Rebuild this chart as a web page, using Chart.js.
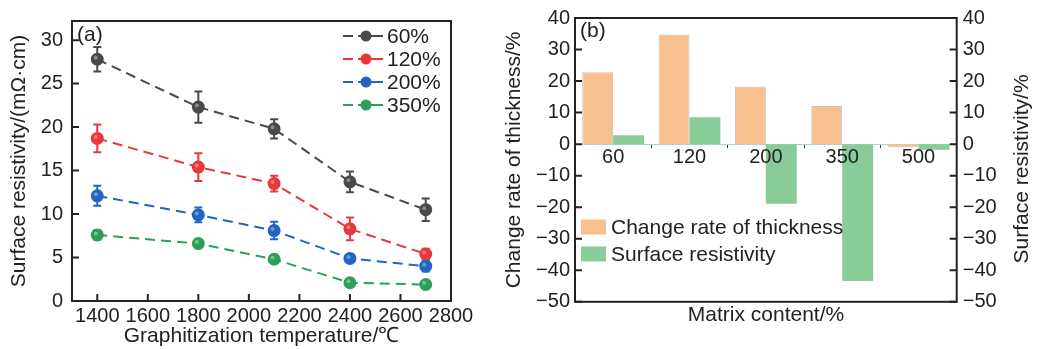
<!DOCTYPE html>
<html>
<head>
<meta charset="utf-8">
<script src="https://cdn.jsdelivr.net/npm/chart.js@4.4.1/dist/chart.umd.min.js"></script>
<style>
html, body { margin: 0; padding: 0; background: #fff; }
#wrap { position: relative; width: 1037px; height: 349px; overflow: hidden; }
#cA { position: absolute; left: 0; top: 0; }
#cB { position: absolute; left: 495px; top: 0; }
</style>
</head>
<body>
<div id="wrap">
  <canvas id="cA" width="495" height="349"></canvas>
  <canvas id="cB" width="542" height="349"></canvas>
</div>
<script>
// ---- panel (a) data ----
var temps = [1400, 1800, 2100, 2400, 2700];
var res60 = [27.8, 22.3, 19.8, 13.7, 10.5];
var err60 = [1.4, 1.8, 1.1, 1.2, 1.3];
var res120 = [18.7, 15.4, 13.5, 8.3, 5.4];
var err120 = [1.6, 1.6, 0.9, 1.3, 0.6];
var res200 = [12.1, 9.9, 8.1, 4.9, 4.0];
var err200 = [1.15, 0.85, 1.0, 0.4, 0.6];
var res350 = [7.6, 6.6, 4.8, 2.1, 1.9];
var err350 = [0.55, 0.3, 0.4, 0.3, 0.2];
var tempTicks = [1400, 1600, 1800, 2000, 2200, 2400, 2600, 2800];
var resTicks = [0, 5, 10, 15, 20, 25, 30];

// ---- panel (b) data ----
var matrix = ['60', '120', '200', '350', '500'];
var thickRate = [22.8, 34.8, 18.3, 12.1, -1.0];
var surfRes = [2.8, 8.5, -18.9, -43.4, -1.8];
var pctTicks = [-50, -40, -30, -20, -10, 0, 10, 20, 30, 40];

var FONT = "'Liberation Sans', Arial, Helvetica, sans-serif";
Chart.defaults.font.family = FONT;
Chart.defaults.color = '#222';

function minus(v){ return v < 0 ? '\u2212' + Math.abs(v) : '' + v; }

function lineSet(label, vals, errs, color){
  return {
    label: label,
    data: temps.map((t, i) => ({x: t, y: vals[i]})),
    errs: errs,
    borderColor: color,
    backgroundColor: color,
    borderWidth: 2,
    borderDash: [10, 6],
    pointRadius: 5.5,
    pointBackgroundColor: color,
    pointBorderColor: color,
    tension: 0
  }
}

var lineSets = [
  lineSet('60%', res60, err60, '#4a4a4a'),
  lineSet('120%', res120, err120, '#e8383d'),
  lineSet('200%', res200, err200, '#2165c0'),
  lineSet('350%', res350, err350, '#2e9e5a'),
];

// error bars, frame, inward ticks, legend for (a)
var plugA = {
  id: 'plugA',
  afterDatasetsDraw(chart){
    const ctx = chart.ctx, y = chart.scales.y, x = chart.scales.x;
    ctx.save();
    chart.data.datasets.forEach((ds, di) => {
      ctx.strokeStyle = ds.borderColor;
      ctx.lineWidth = 2;
      ds.data.forEach((p, i) => {
        const px = x.getPixelForValue(p.x);
        const hi = y.getPixelForValue(p.y + ds.errs[i]);
        const lo = y.getPixelForValue(p.y - ds.errs[i]);
        ctx.beginPath();
        ctx.moveTo(px, hi); ctx.lineTo(px, lo);
        ctx.moveTo(px - 4, hi); ctx.lineTo(px + 4, hi);
        ctx.moveTo(px - 4, lo); ctx.lineTo(px + 4, lo);
        ctx.stroke();
      });
      // small highlight on markers
      chart.getDatasetMeta(di).data.forEach(pt => {
        ctx.fillStyle = 'rgba(255,255,255,0.35)';
        ctx.beginPath(); ctx.arc(pt.x - 1.5, pt.y - 1.5, 2, 0, Math.PI * 2); ctx.fill();
      });
    });
    ctx.restore();
  },
  afterDraw(chart){
    const ctx = chart.ctx, a = chart.chartArea, x = chart.scales.x, y = chart.scales.y;
    ctx.save();
    ctx.strokeStyle = '#222';
    ctx.lineWidth = 2;
    ctx.strokeRect(a.left, a.top, a.right - a.left, a.bottom - a.top);
    ctx.beginPath();
    x.ticks.forEach(t => { const px = x.getPixelForValue(t.value); ctx.moveTo(px, a.bottom); ctx.lineTo(px, a.bottom - 7); });
    y.ticks.forEach(t => { const py = y.getPixelForValue(t.value); ctx.moveTo(a.left, py); ctx.lineTo(a.left + 7, py); });
    ctx.stroke();
    // panel label
    ctx.font = '21px ' + FONT;
    ctx.fillStyle = '#222';
    ctx.textBaseline = 'middle';
    ctx.fillText('(a)', a.left + 5, a.top + 14);
    // legend
    chart.data.datasets.forEach((ds, i) => {
      const ly = a.top + 15 + i * 23;
      const lx = a.right - 108;
      ctx.strokeStyle = ds.borderColor;
      ctx.lineWidth = 2;
      ctx.beginPath();
      ctx.moveTo(lx, ly); ctx.lineTo(lx + 10, ly);
      ctx.moveTo(lx + 15, ly); ctx.lineTo(lx + 40, ly);
      ctx.stroke();
      ctx.fillStyle = ds.borderColor;
      ctx.beginPath(); ctx.arc(lx + 23, ly, 5.5, 0, Math.PI * 2); ctx.fill();
      ctx.fillStyle = '#222';
      ctx.fillText(ds.label, lx + 44, ly + 1);
    });
    ctx.restore();
  }
};

var chartA = new Chart(document.getElementById('cA'), {
  type: 'line',
  data: { datasets: lineSets },
  plugins: [plugA],
  options: {
    responsive: false,
    animation: false,
    layout: { padding: { top: 13, right: 44, left: 0, bottom: 0 } },
    plugins: { legend: { display: false }, tooltip: { enabled: false } },
    scales: {
      x: {
        type: 'linear', min: 1300, max: 2800,
        afterBuildTicks: s => { s.ticks = tempTicks.map(v => ({value: v})); },
        afterFit: s => { s.height = 48; },
        grid: { display: false, drawTicks: false },
        border: { display: false },
        ticks: { font: { size: 20 }, color: '#222', padding: 3, maxRotation: 0, autoSkip: false, callback: v => String(v) },
        title: { display: true, text: 'Graphitization temperature/\u2103', font: { size: 21 }, color: '#222', padding: 0 }
      },
      y: {
        min: 0, max: 32.2,
        afterBuildTicks: s => { s.ticks = resTicks.map(v => ({value: v})); },
        afterFit: s => { s.width = 72; },
        grid: { display: false, drawTicks: false },
        border: { display: false },
        ticks: { font: { size: 20 }, color: '#222', padding: 9 },
        title: { display: true, text: 'Surface resistivity/(m\u03A9\u00B7cm)', font: { size: 21 }, color: '#222', padding: { top: 7, bottom: 0 } }
      }
    }
  }
});

// ---- panel (b) ----
var ORANGE = '#f8c08e';
var GREEN = '#89cc9a';

var plugB = {
  id: 'plugB',
  afterDraw(chart){
    const ctx = chart.ctx, a = chart.chartArea, y = chart.scales.y, y2 = chart.scales.y2;
    ctx.save();
    ctx.strokeStyle = '#222';
    ctx.lineWidth = 2;
    ctx.strokeRect(a.left, a.top, a.right - a.left, a.bottom - a.top);
    ctx.beginPath();
    y.ticks.forEach(t => { const py = y.getPixelForValue(t.value); ctx.moveTo(a.left, py); ctx.lineTo(a.left + 7, py); });
    y2.ticks.forEach(t => { const py = y2.getPixelForValue(t.value); ctx.moveTo(a.right, py); ctx.lineTo(a.right - 7, py); });
    ctx.stroke();
    ctx.font = '21px ' + FONT;
    ctx.fillStyle = '#222';
    ctx.textBaseline = 'middle';
    ctx.fillText('(b)', a.left + 5, a.top + 13);
    // legend
    const items = [['Change rate of thickness', ORANGE], ['Surface resistivity', GREEN]];
    items.forEach((it, i) => {
      const ly = a.top + 209 + i * 27;
      ctx.fillStyle = it[1];
      ctx.fillRect(a.left + 6, ly - 7.5, 25, 15);
      ctx.fillStyle = '#222';
      ctx.fillText(it[0], a.left + 36, ly + 1);
    });
    // right axis title, reading bottom to top
    ctx.save();
    ctx.translate(chart.width - 15, (a.top + a.bottom) / 2 + 9);
    ctx.rotate(-Math.PI / 2);
    ctx.textAlign = 'center';
    ctx.fillText('Surface resistivity/%', 0, 0);
    ctx.restore();
    ctx.restore();
  }
};

var chartB = new Chart(document.getElementById('cB'), {
  type: 'bar',
  data: {
    labels: matrix,
    datasets: [
      { label: 'Change rate of thickness', data: thickRate, yAxisID: 'y', backgroundColor: ORANGE, borderColor: '#cdbfb4', borderWidth: 1, categoryPercentage: 0.81, barPercentage: 1 },
      { label: 'Surface resistivity', data: surfRes, yAxisID: 'y2', backgroundColor: GREEN, borderColor: GREEN, borderWidth: 0, categoryPercentage: 0.81, barPercentage: 1 }
    ]
  },
  plugins: [plugB],
  options: {
    responsive: false,
    animation: false,
    layout: { padding: { top: 12.7, right: 0, left: 0, bottom: 0 } },
    plugins: {
      legend: { display: false },
      tooltip: { enabled: false },
      title: { display: true, position: 'bottom', text: 'Matrix content/%', font: { size: 21, weight: 'normal' }, color: '#222', padding: { top: 1, bottom: 21 } }
    },
    scales: {
      x: {
        type: 'category',
        position: { y: 0 },
        grid: { display: true, drawOnChartArea: false, drawTicks: true, tickLength: 3, color: '#333', offset: true },
        border: { display: true, color: '#a9dab6', width: 1 },
        ticks: { font: { size: 20 }, color: '#222', padding: -2, maxRotation: 0, z: 1 }
      },
      y: {
        position: 'left', min: -50, max: 40,
        afterBuildTicks: s => { s.ticks = pctTicks.map(v => ({value: v})); },
        afterFit: s => { s.width = 80; },
        grid: { display: false, drawTicks: false },
        border: { display: false },
        ticks: { font: { size: 20 }, color: '#222', padding: 5, callback: v => minus(v) },
        title: { display: true, text: 'Change rate of thickness/%', font: { size: 21 }, color: '#222', padding: { top: 7, bottom: 0 } }
      },
      y2: {
        position: 'right', min: -50, max: 40,
        afterBuildTicks: s => { s.ticks = pctTicks.map(v => ({value: v})); },
        afterFit: s => { s.width = 80.3; },
        grid: { display: false, drawTicks: false },
        border: { display: false },
        ticks: { font: { size: 20 }, color: '#222', padding: 6, callback: v => minus(v) }
      }
    }
  }
});
</script>
</body>
</html>
